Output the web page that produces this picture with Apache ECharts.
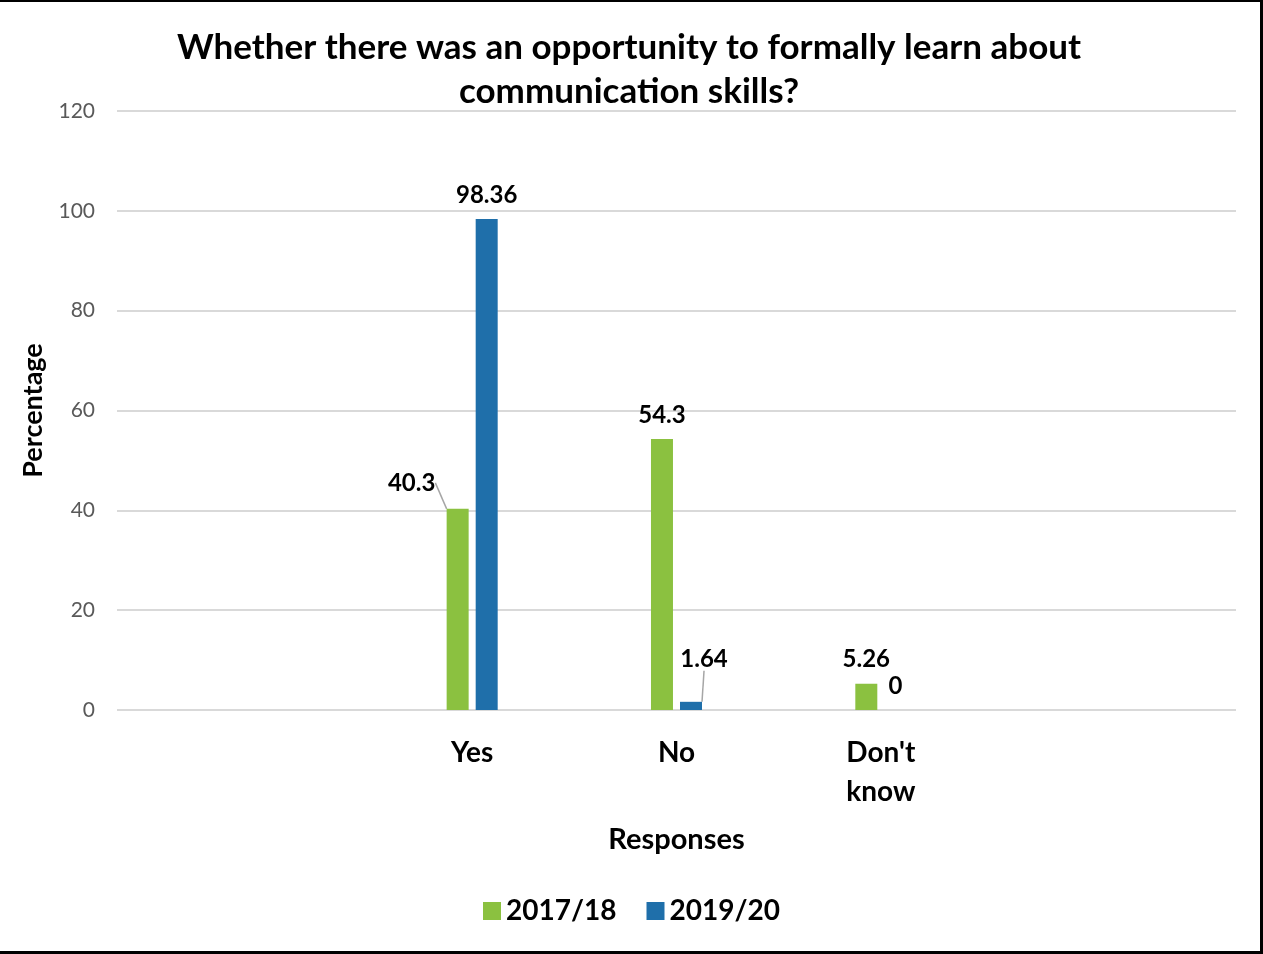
<!DOCTYPE html>
<html>
<head>
<meta charset="utf-8">
<script src="https://cdn.jsdelivr.net/npm/echarts@6/dist/echarts.min.js"></script>
<style>
  html, body { margin: 0; padding: 0; background: #fff; }
  #wrap { position: relative; width: 1263px; height: 954px; }
  #chart { position: absolute; left: 0; top: 0; width: 1263px; height: 954px; }
  #frame {
    position: absolute; left: 0; top: 0; width: 1263px; height: 954px; box-sizing: border-box;
    border-top: 2px solid #000; border-right: 3px solid #000; border-bottom: 3px solid #000;
    pointer-events: none;
  }
</style>
</head>
<body>
<div id="wrap"><div id="chart"></div><div id="frame"></div></div>
<script>
// Survey responses by year (percent)
const categories = ['Yes', 'No', "Don't\nknow"];
const seriesNames = ['2017/18', '2019/20'];
const values1718 = [40.3, 54.3, 5.26];
const values1920 = [98.36, 1.64, 0];
const yTicks = [0, 20, 40, 60, 80, 100, 120];

const FONT = 'Lato, "Open Sans", sans-serif';
const GREEN = '#8BC140';
const BLUE = '#1F6FAA';

const chart = echarts.init(document.getElementById('chart'), null, { renderer: 'canvas' });

const labelBase = {
  show: true, position: 'top', distance: 12,
  color: '#000', fontFamily: FONT, fontWeight: 'bold', fontSize: 24
};
const guide = { show: true, lineStyle: { color: '#A6A6A6', width: 1.5 } };

// per-bar label tweaks: nudged labels get a guide line
function withLabels(values, tweaks) {
  return values.map((v, i) => {
    const t = tweaks[i];
    if (!t) return v;
    const item = { value: v };
    if (t.offset) item.label = { offset: t.offset };
    if (t.guide) item.labelLine = guide;
    return item;
  });
}

chart.setOption({
  animation: false,
  backgroundColor: '#fff',
  textStyle: { fontFamily: FONT },
  title: {
    text: 'Whether there was an opportunity to formally learn about\ncommunication skills?',
    left: 624, top: 21, textAlign: 'center',
    textStyle: { fontFamily: FONT, fontWeight: 'bold', fontSize: 35, lineHeight: 44, color: '#000' }
  },
  legend: {
    data: seriesNames,
    bottom: 24, left: 'center',
    icon: 'rect', itemWidth: 18, itemHeight: 18, itemGap: 30,
    textStyle: { fontFamily: FONT, fontWeight: 'bold', fontSize: 28, color: '#000' }
  },
  grid: [
    // full-width plot area: gridlines and value labels
    { left: 117, right: 27, top: 111, bottom: 244 },
    // inner band holding the category clusters
    { left: 370, right: 280, top: 111, bottom: 244 }
  ],
  xAxis: [
    { gridIndex: 0, type: 'category', data: categories, show: false },
    {
      gridIndex: 1, type: 'category', data: categories,
      axisLine: { show: false }, axisTick: { show: false },
      axisLabel: {
        color: '#000', fontFamily: FONT, fontWeight: 'bold', fontSize: 28,
        lineHeight: 39, margin: 23
      },
      name: 'Responses', nameLocation: 'middle', nameGap: 115,
      nameTextStyle: { color: '#000', fontFamily: FONT, fontWeight: 'bold', fontSize: 29 }
    }
  ],
  yAxis: [
    {
      gridIndex: 0, type: 'value', min: 0, max: 120, interval: 20,
      axisLine: { show: false }, axisTick: { show: false },
      splitLine: { lineStyle: { color: '#D9D9D9', width: 2 } },
      axisLabel: { color: '#595959', fontFamily: FONT, fontSize: 21, margin: 22,
        formatter: v => (yTicks.includes(v) ? String(v) : '') },
      name: 'Percentage', nameLocation: 'middle', nameGap: 70, nameRotate: 90,
      nameTextStyle: { color: '#000', fontFamily: FONT, fontWeight: 'bold', fontSize: 27 }
    },
    {
      gridIndex: 1, type: 'value', min: 0, max: 120, interval: 20, show: false
    }
  ],
  series: [
    {
      name: seriesNames[0], type: 'bar', xAxisIndex: 1, yAxisIndex: 1,
      barWidth: 22, barGap: '32%',
      itemStyle: { color: GREEN },
      data: withLabels(values1718, { 0: { guide: true }, 2: { offset: [0, 4] } }),
      label: labelBase,
      labelLine: { show: false },
      labelLayout: p => (p.dataIndex === 0 ? { dx: -46, dy: -2 } : {})
    },
    {
      name: seriesNames[1], type: 'bar', xAxisIndex: 1, yAxisIndex: 1,
      barWidth: 22, barGap: '32%',
      itemStyle: { color: BLUE },
      data: withLabels(values1920, { 1: { guide: true }, 2: { offset: [-2, -10] } }),
      label: labelBase,
      labelLine: { show: false },
      labelLayout: p => (p.dataIndex === 1 ? { dx: 13, dy: -19 } : {})
    }
  ]
});
</script>
</body>
</html>
